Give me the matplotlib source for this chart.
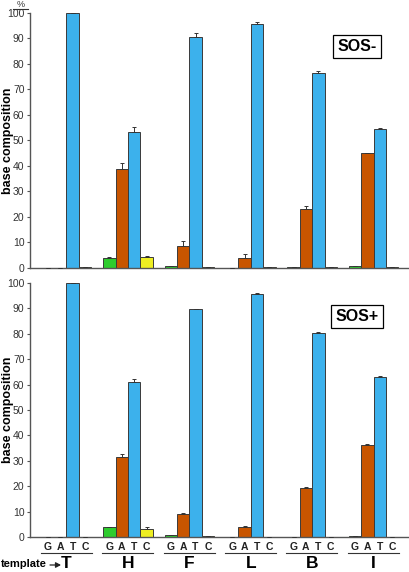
import matplotlib
matplotlib.use("Agg")
import matplotlib.pyplot as plt
import matplotlib.transforms as mtransforms
from matplotlib.lines import Line2D
from matplotlib.patches import FancyArrowPatch
import numpy as np

plt.rcParams["font.family"] = ["Liberation Sans", "DejaVu Sans"]

templates = ["T", "H", "F", "L", "B", "I"]
bases = ["G", "A", "T", "C"]
base_colors = ["#2ecc2e", "#c85500", "#3cb1ec", "#eeee22"]

# SOS- (top panel): rows are bases G, A, T, C
sos_minus_G = [0.0, 3.9, 0.7, 0.1, 0.2, 0.7]
sos_minus_A = [0.0, 38.7, 8.8, 4.1, 23.3, 44.9]
sos_minus_T = [100.0, 53.3, 90.3, 95.6, 76.2, 54.3]
sos_minus_C = [0.2, 4.4, 0.5, 0.2, 0.5, 0.5]
sos_minus_G_err = [0.0, 0.3, 0.2, 0.0, 0.0, 0.1]
sos_minus_A_err = [0.0, 2.3, 1.8, 1.2, 1.0, 0.3]
sos_minus_T_err = [0.0, 2.0, 1.8, 0.9, 1.0, 0.6]
sos_minus_C_err = [0.0, 0.3, 0.0, 0.0, 0.0, 0.0]

# SOS+ (bottom panel)
sos_plus_G = [0.0, 3.9, 0.8, 0.2, 0.2, 0.5]
sos_plus_A = [0.0, 31.7, 9.0, 4.0, 19.3, 36.3]
sos_plus_T = [100.0, 61.0, 89.5, 95.5, 80.3, 63.0]
sos_plus_C = [0.3, 3.3, 0.5, 0.2, 0.3, 0.2]
sos_plus_G_err = [0.0, 0.3, 0.1, 0.0, 0.0, 0.0]
sos_plus_A_err = [0.0, 0.9, 0.4, 0.5, 0.6, 0.4]
sos_plus_T_err = [0.0, 1.0, 0.3, 0.3, 0.5, 0.3]
sos_plus_C_err = [0.0, 0.6, 0.0, 0.0, 0.0, 0.0]

panels = [
    ("SOS-", [sos_minus_G, sos_minus_A, sos_minus_T, sos_minus_C],
     [sos_minus_G_err, sos_minus_A_err, sos_minus_T_err, sos_minus_C_err]),
    ("SOS+", [sos_plus_G, sos_plus_A, sos_plus_T, sos_plus_C],
     [sos_plus_G_err, sos_plus_A_err, sos_plus_T_err, sos_plus_C_err]),
]

W, H = 410, 572
fig = plt.figure(figsize=(W / 100, H / 100), dpi=100)

x = np.arange(len(templates))
bw = 0.202
gray = "#555555"

axes_px = [(12.7, 268.0), (282.7, 537.3)]  # (top px, bottom px)
left_px, right_px = 30, 408

for (name, vals, errs), (top_px, bot_px) in zip(panels, axes_px):
    ax = fig.add_axes([left_px / W, 1 - bot_px / H,
                       (right_px - left_px) / W, (bot_px - top_px) / H])
    for k in range(4):
        ax.bar(x + (k - 1.5) * bw, vals[k], bw, color=base_colors[k],
               edgecolor="#3a3a3a", linewidth=0.7, zorder=2)
        ax.errorbar(x + (k - 1.5) * bw, vals[k],
                    yerr=[np.zeros(len(x)), errs[k]], fmt="none",
                    ecolor="#333333", elinewidth=0.7, capsize=1.5,
                    capthick=0.7, zorder=3)
    ax.set_xlim(-0.594, 5.56)
    ax.set_ylim(0, 100)
    ax.set_yticks(range(0, 101, 10))
    ax.set_xticks([])
    for s in ["top", "right"]:
        ax.spines[s].set_visible(False)
    for s in ["left", "bottom"]:
        ax.spines[s].set_color(gray)
        ax.spines[s].set_linewidth(1.0)
    ax.tick_params(axis="y", length=2.5, width=0.8, color=gray,
                   labelsize=7.5, labelcolor="#333333", pad=1.5)
    ax.text(4.73, 86.7, name, ha="center", va="center", fontsize=11.5,
            fontweight="bold",
            bbox=dict(boxstyle="square,pad=0.25", fc="white", ec="black", lw=0.9))
    mid = 1 - (top_px + bot_px) / 2 / H
    fig.text(8 / W, mid, "base composition", rotation=90, ha="center",
             va="center", fontsize=9, fontweight="bold")

    if name == "SOS+":
        trans = mtransforms.blended_transform_factory(ax.transData, ax.transAxes)
        for i, t in enumerate(templates):
            for k, b in enumerate(bases):
                ax.text(i + (k - 1.5) * bw, -0.038, b, transform=trans,
                        ha="center", va="center", fontsize=7.5,
                        fontweight="bold", color="#222222")
            ax.plot([i - 0.42, i + 0.41], [-0.063, -0.063], transform=trans,
                    color="#333333", lw=0.8, clip_on=False)
            ax.text(i, -0.102, t, transform=trans, ha="center", va="center",
                    fontsize=12.5, fontweight="bold")
        fig.text(1 / W, 1 - 564 / H, "template", ha="left",
                 va="center", fontsize=8, fontweight="bold")
        fig.add_artist(FancyArrowPatch(
            (50 / W, 1 - 565 / H), (61 / W, 1 - 565 / H),
            transform=fig.transFigure, arrowstyle="-|>,head_length=3,head_width=1.6",
            color="#222222", lw=0.9, mutation_scale=1, shrinkA=0, shrinkB=0))

fig.text(21 / W, 1 - 4.5 / H, "%", ha="center", va="center", fontsize=6.5,
         color="#333333")
fig.add_artist(Line2D([13 / W, 28 / W], [1 - 8.5 / H, 1 - 8.5 / H],
                      color="#333333", lw=0.8))

fig.savefig("out.png", dpi=100)
